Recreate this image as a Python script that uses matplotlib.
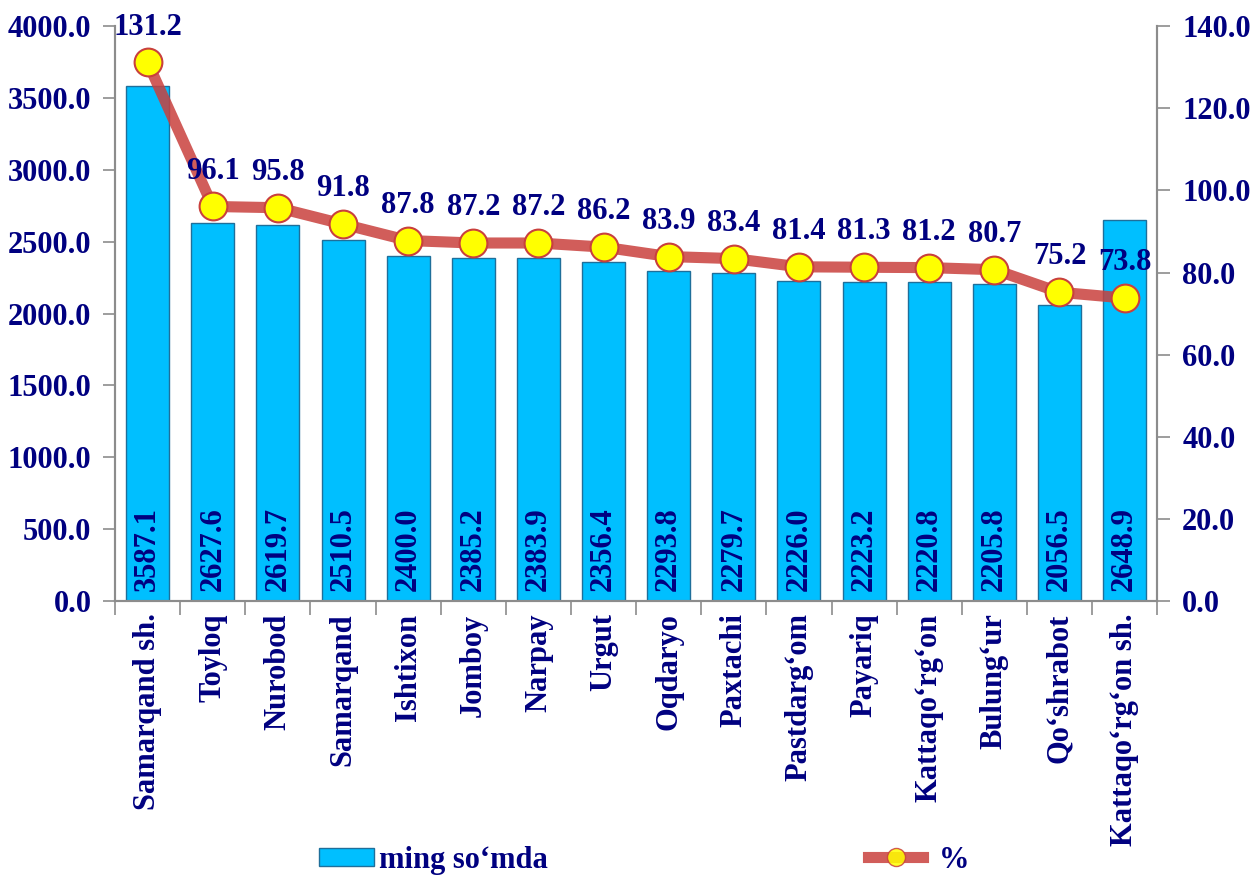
import matplotlib
matplotlib.use("Agg")
import matplotlib.pyplot as plt
import numpy as np
from matplotlib.lines import Line2D
from matplotlib.patches import Patch

plt.rcParams['font.family'] = ['Liberation Serif', 'DejaVu Serif']
plt.rcParams['font.weight'] = 'bold'

# --- Data ---
districts = ["Samarqand sh.", "Toyloq", "Nurobod", "Samarqand", "Ishtixon", "Jomboy",
             "Narpay", "Urgut", "Oqdaryo", "Paxtachi", "Pastdarg‘om", "Payariq",
             "Kattaqo‘rg‘on", "Bulung‘ur", "Qo‘shrabot", "Kattaqo‘rg‘on sh."]
amount = [3587.1, 2627.6, 2619.7, 2510.5, 2400.0, 2385.2, 2383.9, 2356.4,
          2293.8, 2279.7, 2226.0, 2223.2, 2220.8, 2205.8, 2056.5, 2648.9]
percent = [131.2, 96.1, 95.8, 91.8, 87.8, 87.2, 87.2, 86.2,
           83.9, 83.4, 81.4, 81.3, 81.2, 80.7, 75.2, 73.8]

NAVY = '#000080'
BAR = '#00BFFF'
LINE = '#C9403D'
GRAY = '#8C8C8C'
FS = 22

fig = plt.figure(figsize=(12.51, 8.76), dpi=100)
ax = fig.add_axes([0.092, 0.314, 0.833, 0.656])
ax2 = ax.twinx()

x = np.arange(len(districts))

# --- Bars ---
ax.bar(x, amount, width=0.66, color=BAR, edgecolor='#1F6F9A', linewidth=1.0, zorder=2)
for xi, v in zip(x, amount):
    ax.text(xi, 70, f"{v:.1f}", rotation=90, ha='center', va='bottom',
            color=NAVY, fontsize=FS, fontweight='bold', zorder=3)

ax.set_xlim(-0.5, len(districts) - 0.5)
ax.set_ylim(0, 4000)
ax.set_yticks(np.arange(0, 4001, 500))
ax.set_yticklabels([f"{v:.1f}" for v in np.arange(0, 4001, 500)])
ax.set_xticks(x)
ax.set_xticklabels(districts, rotation=90)
ax.set_xticks(np.arange(-0.5, len(districts)), minor=True)
ax.tick_params(axis='x', which='major', length=0, pad=9, labelsize=FS, labelcolor=NAVY)
ax.tick_params(axis='x', which='minor', length=10, color=GRAY, width=1.2)
ax.tick_params(axis='y', length=9, color=GRAY, width=1.2, pad=8, labelsize=FS, labelcolor=NAVY)

# --- Line ---
ax2.plot(x, percent, color=LINE, linewidth=8, alpha=0.85, solid_capstyle='round', zorder=3)
ax2.plot(x, percent, linestyle='none', marker='o', markersize=20,
         markerfacecolor='#FFFF00', markeredgecolor=LINE, markeredgewidth=1.5, zorder=4)
for xi, v in zip(x, percent):
    ax2.annotate(f"{v:.1f}", (xi, v), xytext=(0, 15), textcoords='offset points',
                 ha='center', va='bottom', color=NAVY, fontsize=FS, fontweight='bold', zorder=5)

ax2.set_ylim(0, 140)
ax2.set_yticks(np.arange(0, 141, 20))
ax2.set_yticklabels([f"{v:.1f}" for v in np.arange(0, 141, 20)])
ax2.tick_params(axis='y', length=9, color=GRAY, width=1.2, pad=9, labelsize=FS, labelcolor=NAVY)

for a in (ax, ax2):
    a.spines['top'].set_visible(False)
    for s in ('left', 'right', 'bottom'):
        a.spines[s].set_color(GRAY)
        a.spines[s].set_linewidth(1.5)

# --- Legend (two separate entries, as in the source layout) ---
bar_handle = Patch(facecolor=BAR, edgecolor='#1F6F9A', label='ming so‘mda')
line_handle = Line2D([0], [0], color=LINE, linewidth=8, alpha=0.85, marker='o', markersize=13,
                     markerfacecolor='#FFFF00', markeredgecolor=LINE, label='%')
leg1 = fig.legend(handles=[bar_handle], loc='center left', bbox_to_anchor=(0.233, 0.018),
                  frameon=False, fontsize=FS, handlelength=1.8, handleheight=0.5,
                  handletextpad=0.15, labelcolor=NAVY)
leg2 = fig.legend(handles=[line_handle], loc='center left', bbox_to_anchor=(0.672, 0.018),
                  frameon=False, fontsize=FS, handlelength=1.8, handletextpad=0.5,
                  labelcolor=NAVY)
for lg in (leg1, leg2):
    for t in lg.get_texts():
        t.set_fontweight('bold')

fig.savefig('out.png', dpi=100)
